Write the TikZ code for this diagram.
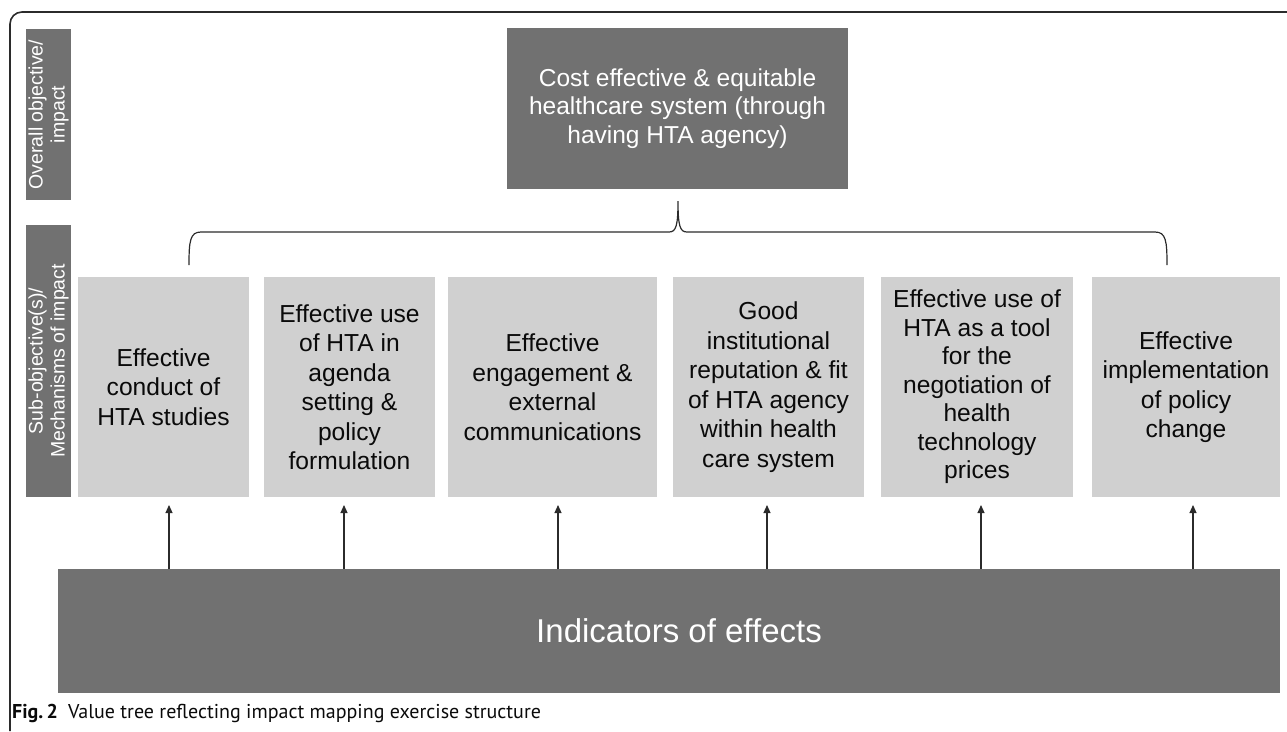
\documentclass[tikz,border=0pt]{standalone}
\usepackage{fontspec}
\setmainfont{Liberation Sans}
\newfontfamily\capfont{PT Sans}
\usetikzlibrary{arrows.meta}
\definecolor{darkbox}{HTML}{717171}
\definecolor{lightbox}{HTML}{D0D0D0}
\definecolor{linecol}{HTML}{2B2B2B}
\definecolor{textcol}{HTML}{0A0A0A}
\begin{document}
\begin{tikzpicture}[x=1pt,y=-1pt,
  dark/.style={fill=darkbox, text=white, inner sep=0pt, outer sep=0pt, anchor=center, align=center},
  light/.style={fill=lightbox, text=textcol, inner sep=0pt, outer sep=0pt, anchor=center, align=center,
    minimum height=220pt, font=\fontsize{24.6}{29.5}\selectfont},
  side/.style={dark, rotate=90, minimum height=45pt, font=\fontsize{19.5}{22}\selectfont},
  up/.style={-{Triangle[length=8pt,width=7pt]}, line width=1.1pt, draw=linecol},
  frame/.style={line width=1.6pt, draw=linecol, rounded corners=12pt},
  bracestyle/.style={line width=1.2pt, draw=linecol},
  ]
\useasboundingbox (0,0) rectangle (1287,731);

% outer frame (left and top only, rounded corner)
\draw[frame] (10,731) -- (10,12) -- (1290,12);

% side labels
\node[side, minimum width=171pt] (lab1) at (48.5,114.5) {Overall objective/\\impact};
\node[side, minimum width=272pt] (lab2) at (48.5,361) {Sub-objective(s)/\\Mechanisms of impact};

% top objective
\node[dark, minimum width=341pt, minimum height=161pt, font=\fontsize{24.5}{28.5}\selectfont]
  (top) at (677.5,108.5) {\raisebox{-3pt}{\parbox{330pt}{\centering Cost effective \& equitable\\healthcare system (through\\having HTA agency)}}};

% sub-objective boxes
\node[light, minimum width=171pt] (b1) at (163.5,387) {Effective\\conduct of\\HTA studies};
\node[light, minimum width=171pt] (b2) at (349.5,387) {Effective use\\of HTA in\\agenda\\setting \&\\policy\\formulation};
\node[light, minimum width=209pt] (b3) at (552.5,387) {Effective\\engagement \&\\external\\communications};
\node[light, minimum width=191pt] (b4) at (768.5,387) {Good\\institutional\\reputation \& fit\\of HTA agency\\within health\\care system};
\node[light, minimum width=192pt, font=\fontsize{24.6}{28.5}\selectfont] (b5) at (977,387) {Effective use of\\HTA as a tool\\for the\\negotiation of\\health\\technology\\prices};
\node[light, minimum width=188pt] (b6) at (1186,387) {Effective\\implementation\\of policy\\change};

% indicators
\node[dark, minimum width=1222pt, minimum height=124pt, font=\fontsize{33}{38}\selectfont]
  (ind) at (669,631) {\hspace{20pt}Indicators of effects};

% brace
\coordinate (bl) at (189,265);
\coordinate (br) at (1167,265);
\coordinate (bt) at (678,201);
\draw[bracestyle] (bl) .. controls (189,241) and (190,232) .. (201,232) -- (669,232)
  .. controls (676,232) and (678,226) .. (bt)
  .. controls (678,226) and (680,232) .. (687,232) -- (1155,232)
  .. controls (1166,232) and (1167,241) .. (br);

% arrows
\draw[up] ([xshift=5.5pt]b1.south |- ind.north) -- ([xshift=5.5pt,yshift=-8pt]b1.south);
\draw[up] ([xshift=-5.5pt]b2.south |- ind.north) -- ([xshift=-5.5pt,yshift=-8pt]b2.south);
\draw[up] ([xshift=5.5pt]b3.south |- ind.north) -- ([xshift=5.5pt,yshift=-8pt]b3.south);
\draw[up] ([xshift=-1.5pt]b4.south |- ind.north) -- ([xshift=-1.5pt,yshift=-8pt]b4.south);
\draw[up] ([xshift=4pt]b5.south |- ind.north) -- ([xshift=4pt,yshift=-8pt]b5.south);
\draw[up] ([xshift=7pt]b6.south |- ind.north) -- ([xshift=7pt,yshift=-8pt]b6.south);

% caption
\node[anchor=west, inner sep=0pt, font=\capfont\fontsize{20}{22}\selectfont, text=textcol] (cap) at (12,713)
  {\textbf{Fig.\,2}\enspace Value tree reflecting impact mapping exercise structure};
\end{tikzpicture}
\end{document}
